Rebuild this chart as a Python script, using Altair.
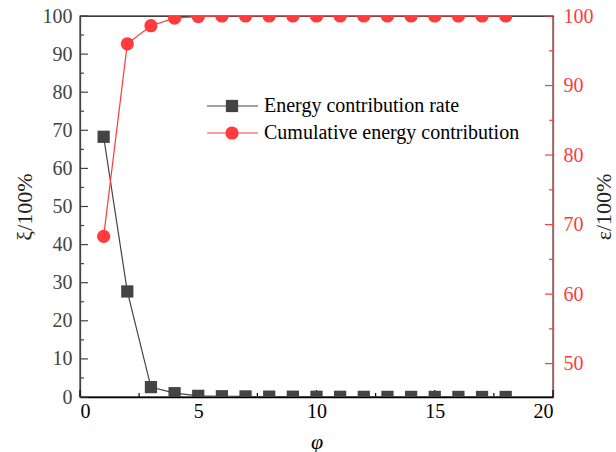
import altair as alt
import pandas as pd

# Principal-component index and its energy contributions (%)
phi = list(range(1, 19))
rate = [68.3, 27.7, 2.6, 1.0, 0.3, 0.2, 0.15, 0.1, 0.08, 0.06,
        0.05, 0.04, 0.03, 0.03, 0.02, 0.02, 0.01, 0.01]
cumulative = [68.3, 96.0, 98.6, 99.7, 99.9, 100.0, 100.0, 100.0, 100.0,
              100.0, 100.0, 100.0, 100.0, 100.0, 100.0, 100.0, 100.0, 100.0]

# Axis tick values (major ticks carry labels, minor ticks are unlabeled)
x_major = [0, 5, 10, 15, 20]
x_minor = [2.5, 7.5, 12.5, 17.5]
left_major = list(range(0, 101, 10))
left_minor = list(range(5, 100, 10))
right_major = [50, 60, 70, 80, 90, 100]
right_minor = [55, 65, 75, 85, 95]

series_names = ["Energy contribution rate", "Cumulative energy contribution"]

W, H = 473, 381
FONT = "Liberation Serif, Times New Roman, serif"
DARK = "#444444"
RED = "#ff3b3b"

df = pd.DataFrame({"phi": phi, "rate": rate, "cum": cumulative})

x_scale = alt.Scale(domain=[0, 20], nice=False, zero=False)
x_axis = alt.Axis(values=x_major, ticks=False, domainColor="black", domainWidth=1.3,
                  labelColor="black", labelFont=FONT, labelFontSize=20, labelPadding=4,
                  title="φ", titleFont=FONT, titleFontStyle="italic", titleFontSize=22,
                  titleColor="black", titleFontWeight="normal", titlePadding=10,
                  grid=False)

yl_scale = alt.Scale(domain=[0, 100], nice=False, zero=False)
yl_axis = alt.Axis(values=left_major, ticks=False, domainColor=DARK, domainWidth=1.3,
                   labelColor=DARK, labelFont=FONT, labelFontSize=20, labelPadding=8,
                   title="ξ/100%", titleFont=FONT, titleFontSize=22, titleColor="#222222",
                   titleFontWeight="normal", titlePadding=6, grid=False)

yr_scale = alt.Scale(domain=[45.2, 100], nice=False, zero=False)
yr_axis = alt.Axis(values=right_major, orient="right", ticks=False, domainColor=RED,
                   domainWidth=1.3, labelColor=RED, labelFont=FONT, labelFontSize=20,
                   labelPadding=10, title="ε/100%", titleFont=FONT, titleAngle=270,
                   titleFontSize=22, titleColor="#222222", titleFontWeight="normal",
                   titlePadding=22, grid=False)

X = alt.X("phi:Q", scale=x_scale, axis=x_axis)

# Left axis group: energy contribution rate
black_line = alt.Chart(df).mark_line(color=DARK, strokeWidth=1.2, clip=True).encode(
    x=X, y=alt.Y("rate:Q", scale=yl_scale, axis=yl_axis))
black_pts = alt.Chart(df).mark_point(shape="square", filled=True, size=150, color=DARK,
                                     opacity=1, clip=True).encode(
    x=X, y=alt.Y("rate:Q", scale=yl_scale, axis=yl_axis))


def yticks(values, y_scale, y_axis, x0, x1, color):
    return alt.Chart(pd.DataFrame({"v": values})).mark_rule(color=color, strokeWidth=1.2).encode(
        y=alt.Y("v:Q", scale=y_scale, axis=y_axis), x=alt.value(x0), x2=alt.value(x1))


def xticks(values, length):
    return alt.Chart(pd.DataFrame({"t": values})).mark_rule(color="black", strokeWidth=1.2).encode(
        x=alt.X("t:Q", scale=x_scale, axis=x_axis), y=alt.value(H), y2=alt.value(H - length))


left_group = alt.layer(
    yticks(left_major, yl_scale, yl_axis, 0, 8, DARK),
    yticks(left_minor, yl_scale, yl_axis, 0, 4, DARK),
    xticks(x_major, 7),
    xticks(x_minor, 4),
    black_line,
    black_pts,
)

# Right axis group: cumulative energy contribution
red_line = alt.Chart(df).mark_line(color=RED, strokeWidth=1.2, clip=True).encode(
    x=X, y=alt.Y("cum:Q", scale=yr_scale, axis=yr_axis))
red_pts = alt.Chart(df).mark_point(shape="circle", filled=True, size=175, color=RED,
                                   opacity=1, clip=True).encode(
    x=X, y=alt.Y("cum:Q", scale=yr_scale, axis=yr_axis))

right_group = alt.layer(
    yticks(right_major, yr_scale, yr_axis, W, W - 8, RED),
    yticks(right_minor, yr_scale, yr_axis, W, W - 4, RED),
    red_line,
    red_pts,
)


# Legend: line-through-marker symbol plus label
def legend_entry(name, y, color, shape, size):
    d = pd.DataFrame({"label": [name]})
    base = alt.Chart(d)
    line = base.mark_rule(color=color, strokeWidth=1.2).encode(
        x=alt.value(127), x2=alt.value(178), y=alt.value(y))
    mark = base.mark_point(shape=shape, filled=True, size=size, color=color, opacity=1).encode(
        x=alt.value(152), y=alt.value(y))
    text = base.mark_text(align="left", baseline="middle", font=FONT, fontSize=20,
                          color="black").encode(
        x=alt.value(184), y=alt.value(y), text="label:N")
    return line + mark + text


legend = alt.layer(
    legend_entry(series_names[0], 90, DARK, "square", 150),
    legend_entry(series_names[1], 117, RED, "circle", 175),
)

chart = alt.layer(left_group, right_group, legend).resolve_scale(
    y="independent"
).properties(
    width=W, height=H,
    autosize=alt.AutoSizeParams(type="none"),
    padding={"left": 80, "top": 16, "right": 63, "bottom": 55},
    background="white",
).configure(
    font=FONT,
).configure_axis(
    labelFont=FONT, titleFont=FONT,
).configure_view(
    stroke="black", strokeWidth=1.3,
)

chart.save("out.html", embed_options={"renderer": "svg", "actions": False})
